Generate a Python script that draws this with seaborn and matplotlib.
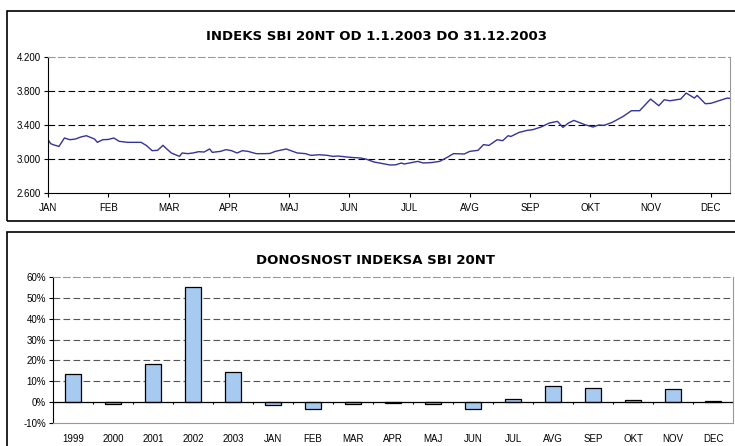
import numpy as np
import pandas as pd
import seaborn as sns
import matplotlib.pyplot as plt
from matplotlib.patches import Rectangle

# index SBI 20NT in 2003 - trading day number and value
day = [0, 1, 2, 4, 6, 8, 10, 12, 14, 17, 18, 20, 22, 24, 26, 29, 34, 36, 38, 40,
       42, 43, 45, 48, 49, 51, 53, 55, 57, 59, 60, 63, 65, 67, 69, 71, 73, 76, 79, 81,
       83, 87, 88, 91, 94, 96, 99, 102, 104, 106, 109, 111, 114, 116, 119, 123, 125, 127, 129, 130,
       132, 135, 137, 140, 143, 146, 148, 152, 154, 157, 159, 161, 164, 166, 168, 169, 172, 175, 177, 180,
       183, 186, 188, 190, 192, 196, 199, 201, 203, 206, 210, 213, 216, 220, 223, 225, 227, 231, 233, 236,
       237, 240, 242, 248, 249]
index_value = [3227, 3180, 3167, 3148, 3247, 3227, 3235, 3259, 3274, 3235, 3196, 3227, 3230, 3247, 3208, 3196, 3196, 3157, 3098, 3102,
               3161, 3129, 3071, 3031, 3071, 3063, 3071, 3086, 3082, 3118, 3078, 3090, 3110, 3098, 3071, 3098, 3090, 3063, 3063, 3065,
               3090, 3118, 3106, 3071, 3063, 3043, 3050, 3043, 3031, 3035, 3024, 3018, 3012, 3000, 2965, 2941, 2929, 2932, 2953, 2941,
               2953, 2972, 2953, 2958, 2972, 3024, 3063, 3059, 3090, 3102, 3169, 3160, 3227, 3215, 3274, 3265, 3313, 3337, 3345, 3376,
               3423, 3443, 3372, 3423, 3454, 3404, 3376, 3400, 3396, 3431, 3501, 3568, 3568, 3705, 3627, 3697, 3685, 3705, 3776, 3717,
               3748, 3650, 3655, 3717, 3713]
month_labels = ['JAN', 'FEB', 'MAR', 'APR', 'MAJ', 'JUN', 'JUL', 'AVG', 'SEP', 'OKT', 'NOV', 'DEC']
month_ticks = [0, 22, 44, 66, 88, 110, 132, 154, 176, 198, 220, 242]
y_ticks = [2600, 3000, 3400, 3800, 4200]

# returns of the index (%)
periods = ['1999', '2000', '2001', '2002', '2003', 'JAN', 'FEB', 'MAR', 'APR', 'MAJ',
           'JUN', 'JUL', 'AVG', 'SEP', 'OKT', 'NOV', 'DEC']
returns = [13.5, -1.0, 18.3, 55.0, 14.6, -1.2, -3.5, -0.8, -0.6, -0.8,
           -3.4, 1.3, 7.7, 6.6, 0.9, 6.1, 0.7]
pct_ticks = [-10, 0, 10, 20, 30, 40, 50, 60]

sns.set_style('white')
plt.rcParams['font.family'] = ['Liberation Sans', 'DejaVu Sans']
plt.rcParams['text.color'] = 'black'
plt.rcParams['xtick.color'] = 'black'
plt.rcParams['ytick.color'] = 'black'

fig = plt.figure(figsize=(7.35, 4.46), dpi=100)

# frames around both charts
fig.patches.append(Rectangle((7 / 735, 1 - 221 / 446), 0.995, 210 / 446, transform=fig.transFigure,
                             fill=False, edgecolor='black', linewidth=1.2))
fig.patches.append(Rectangle((7 / 735, -0.05), 0.995, 1.05 - 232 / 446, transform=fig.transFigure,
                             fill=False, edgecolor='black', linewidth=1.2))

dash = (0, (6, 3))
title_kw = dict(ha='center', va='center', fontsize=9.5, fontweight='bold', family='DejaVu Sans', color='black')

## top chart - index line
ax1 = fig.add_axes([48 / 735, 1 - 193 / 446, 682 / 735, 136 / 446])
df = pd.DataFrame({'day': day, 'value': index_value})
sns.lineplot(data=df, x='day', y='value', ax=ax1, color='#33339A', linewidth=1)
ax1.set_xlim(0, 249)
ax1.set_ylim(2600, 4200)
ax1.set_xticks(month_ticks)
ax1.set_xticklabels(month_labels)
ax1.set_yticks(y_ticks)
ax1.set_yticklabels([f'{v:,}'.replace(',', '.') for v in y_ticks])
for v in y_ticks[1:-1]:
    ax1.axhline(v, color='black', linewidth=0.8, linestyle=dash, zorder=0)
ax1.set_xlabel('')
ax1.set_ylabel('')
for side in ['top', 'right']:
    ax1.spines[side].set_color('#999999')
for side in ['left', 'bottom']:
    ax1.spines[side].set_color('black')
ax1.spines['top'].set_linestyle(dash)
ax1.tick_params(axis='y', length=3, width=0.8, direction='out', labelsize=7, pad=2, left=True, colors='black')
ax1.tick_params(axis='x', length=3, width=0.8, direction='out', labelsize=7, pad=4, bottom=True, colors='black')
fig.text(376 / 735, 1 - 36.5 / 446, 'INDEKS SBI 20NT OD 1.1.2003 DO 31.12.2003', **title_kw)

## bottom chart - returns
ax2 = fig.add_axes([53 / 735, 1 - 423 / 446, 680 / 735, 146 / 446])
sns.barplot(x=periods, y=returns, ax=ax2, color='#A6CAF0', saturation=1,
            edgecolor='black', linewidth=0.9, width=0.42, zorder=3)
ax2.set_xlim(-0.5, len(periods) - 0.5)
ax2.set_ylim(-10, 60)
ax2.set_yticks(pct_ticks)
ax2.set_yticklabels([f'{v}%' for v in pct_ticks])
for v in pct_ticks[2:-1]:
    ax2.axhline(v, color='#555555', linewidth=0.8, linestyle=dash, zorder=0)
ax2.axhline(0, color='black', linewidth=0.9, zorder=4)
ax2.vlines(np.arange(len(periods) + 1) - 0.5, -0.9, 0, color='black', linewidth=0.8, zorder=4)
ax2.set_xlabel('')
ax2.set_ylabel('')
for side in ['top', 'right', 'bottom']:
    ax2.spines[side].set_color('#999999')
ax2.spines['left'].set_color('black')
ax2.spines['top'].set_linestyle(dash)
ax2.tick_params(axis='y', length=3, width=0.8, direction='out', labelsize=7, pad=2, left=True, colors='black')
ax2.tick_params(axis='x', length=0, labelsize=7, pad=8, colors='black')
fig.text(376 / 735, 1 - 260 / 446, 'DONOSNOST INDEKSA SBI 20NT', **title_kw)

fig.savefig('out.png', dpi=100)
